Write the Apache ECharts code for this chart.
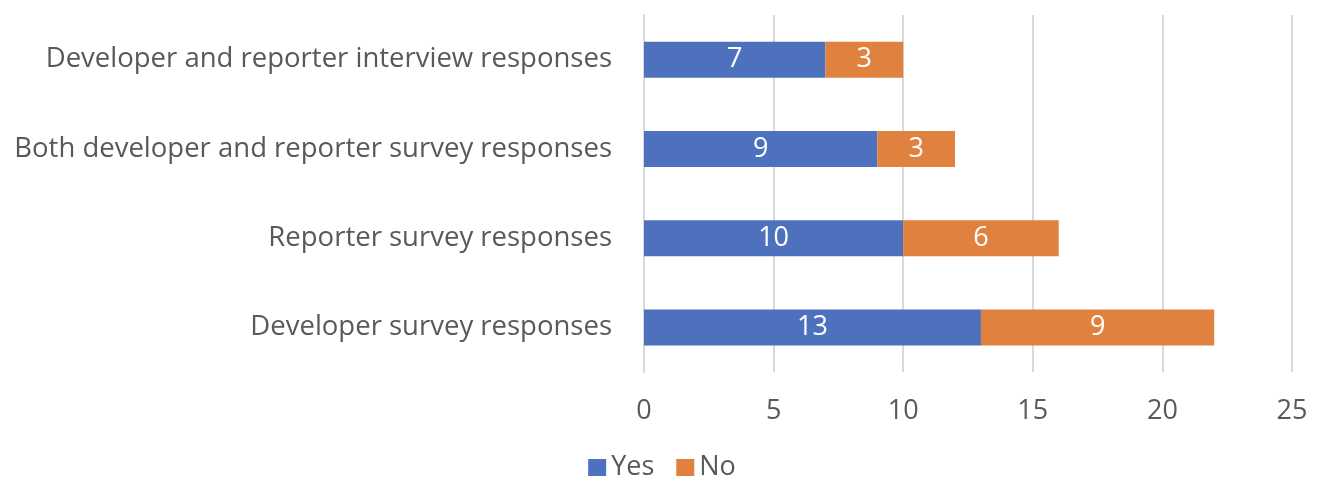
<!DOCTYPE html>
<html>
<head>
<meta charset="utf-8">
<script src="https://cdn.jsdelivr.net/npm/echarts@6/dist/echarts.min.js"></script>
<style>
  html, body { margin: 0; padding: 0; background: #fff; }
  #chart { width: 1324px; height: 498px; }
</style>
</head>
<body>
<div id="chart"></div>
<script>
// categories listed bottom to top, as the category axis draws them
var categories = [
  'Developer survey responses',
  'Reporter survey responses',
  'Both developer and reporter survey responses',
  'Developer and reporter interview responses'
];
var yesValues = [13, 10, 9, 7];
var noValues = [9, 6, 3, 3];
var xTicks = { min: 0, max: 25, interval: 5 };

var font = '"Open Sans", sans-serif';
var myChart = echarts.init(document.getElementById('chart'));

myChart.setOption({
  animation: false,
  textStyle: { fontFamily: font },
  grid: { left: 644, right: 32, top: 15, bottom: 126 },
  legend: {
    bottom: 12,
    left: 'center',
    itemWidth: 18,
    itemHeight: 17,
    itemGap: 22,
    icon: 'rect',
    textStyle: { fontSize: 27, color: '#595959', fontFamily: font },
    data: ['Yes', 'No']
  },
  xAxis: {
    type: 'value',
    min: xTicks.min,
    max: xTicks.max,
    interval: xTicks.interval,
    axisLine: { show: false },
    axisTick: { show: false },
    axisLabel: { fontSize: 27, color: '#595959', margin: 26, fontFamily: font },
    splitLine: { lineStyle: { color: '#d9d9d9', width: 2 } }
  },
  yAxis: {
    type: 'category',
    data: categories,
    axisLine: { show: true, lineStyle: { color: '#d9d9d9', width: 2 } },
    axisTick: { show: false },
    axisLabel: { fontSize: 27.5, color: '#595959', margin: 32, fontFamily: font }
  },
  series: [
    {
      name: 'Yes',
      type: 'bar',
      stack: 'total',
      data: yesValues,
      barWidth: 36,
      itemStyle: { color: '#4E71BE' },
      label: { show: true, position: 'inside', color: '#fff', fontSize: 27, fontFamily: font }
    },
    {
      name: 'No',
      type: 'bar',
      stack: 'total',
      data: noValues,
      barWidth: 36,
      itemStyle: { color: '#E0813F' },
      label: { show: true, position: 'inside', color: '#fff', fontSize: 27, fontFamily: font }
    }
  ]
});

window.addEventListener('resize', function () { myChart.resize(); });
</script>
</body>
</html>
